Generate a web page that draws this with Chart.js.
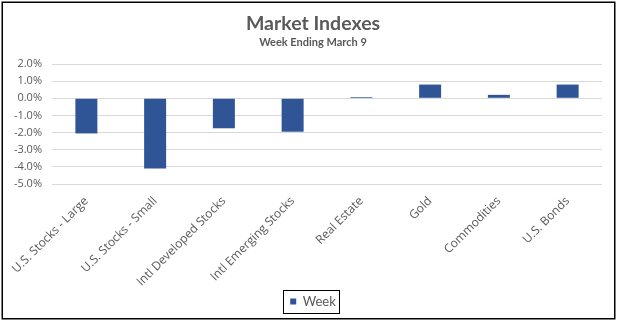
<!DOCTYPE html>
<html>
<head>
<meta charset="utf-8">
<script src="https://cdn.jsdelivr.net/npm/chart.js@4"></script>
<style>
html,body{margin:0;padding:0;background:#fff;}
#wrap{width:620px;height:324px;position:relative;}
</style>
</head>
<body>
<div id="wrap"><canvas id="c" width="620" height="324"></canvas></div>
<script>
const categories = ["U.S. Stocks - Large","U.S. Stocks - Small","Intl Developed Stocks","Intl Emerging Stocks","Real Estate","Gold","Commodities","U.S. Bonds"];
const weekValues = [-2.05,-4.1,-1.75,-1.95,0.07,0.8,0.2,0.8];
const seriesName = "Week";
const titleText = "Market Indexes";
const subtitleText = "Week Ending March 9";
const yMin = -5, yMax = 2, yStep = 1;

const borderPlugin = {
  id:'borderPlugin',
  afterDraw(chart){
    const ctx = chart.ctx;
    ctx.save();
    ctx.strokeStyle = '#000';
    ctx.lineWidth = 1.5;
    ctx.strokeRect(2.25,2.25,612.5,316.5);
    const lg = chart.legend;
    if (lg && lg.legendHitBoxes && lg.legendHitBoxes.length){
      const hb = lg.legendHitBoxes[0];
      const cy = hb.top + hb.height/2;
      ctx.lineWidth = 1;
      ctx.strokeRect(Math.round(hb.left-7)+0.5, Math.round(cy-12)+0.5, Math.round(hb.width+10), 23);
    }
    ctx.restore();
  }
};

Chart.defaults.font.family = 'Lato, "Open Sans", sans-serif';
Chart.defaults.color = '#595959';

new Chart(document.getElementById('c'), {
  type:'bar',
  data:{
    labels:categories,
    datasets:[{
      label:seriesName,
      data:weekValues,
      backgroundColor:'#2F5597',
      borderWidth:0,
      categoryPercentage:1,
      barPercentage:0.32
    }]
  },
  options:{
    responsive:false,
    animation:false,
    layout:{padding:{left:8,right:2,top:0,bottom:6}},
    plugins:{
      title:{display:true,text:titleText,color:'#595959',font:{size:19.5,weight:'bold'},padding:{top:12,bottom:0},lineHeight:1.2},
      subtitle:{display:true,text:subtitleText,color:'#595959',font:{size:11,weight:'bold'},padding:{top:0,bottom:15.4}},
      legend:{
        position:'bottom',
        labels:{boxWidth:6,boxHeight:6,padding:6,color:'#595959',font:{size:13}}
      },
      tooltip:{enabled:false}
    },
    scales:{
      y:{
        min:yMin,max:yMax,
        ticks:{stepSize:yStep,autoSkip:false,callback:v=>v.toFixed(1)+'%',font:{family:'"Open Sans", sans-serif',size:11},color:'#595959',padding:10},
        grid:{color:'#d9d9d9',drawTicks:false},
        border:{display:false},
        afterFit(s){ s.width = 44; }
      },
      yPad:{
        position:'right',
        display:true,
        ticks:{display:false},
        grid:{display:false,drawTicks:false},
        border:{display:false},
        afterFit(s){ s.width = 16; }
      },
      x:{
        grid:{display:false},
        border:{display:false},
        ticks:{minRotation:45,maxRotation:45,font:{family:'"Open Sans", sans-serif',size:12},color:'#595959',padding:2,autoSkip:false},
        afterFit(s){ s.height = 105; }
      }
    }
  },
  plugins:[borderPlugin]
});
</script>
</body>
</html>
